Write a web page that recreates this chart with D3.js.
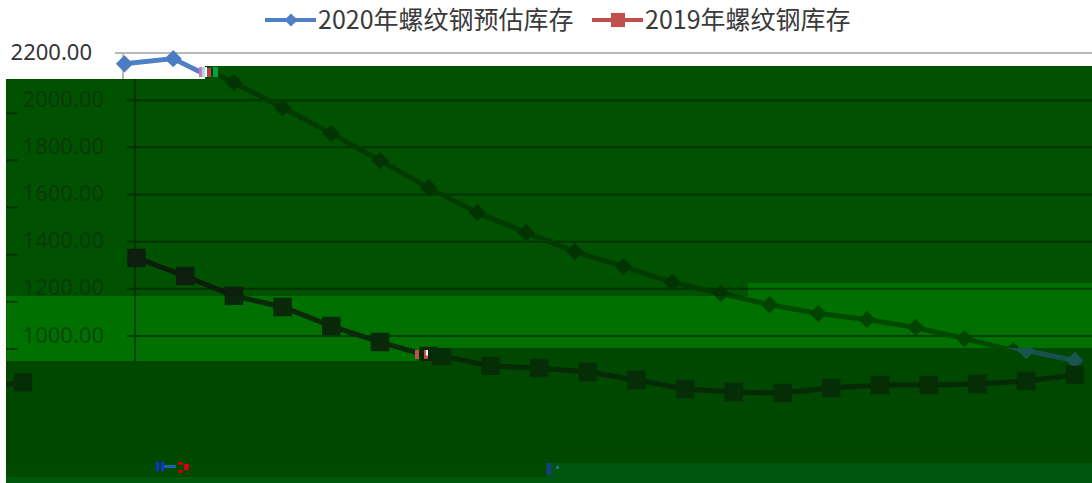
<!DOCTYPE html>
<html><head><meta charset="utf-8">
<script src="https://cdn.jsdelivr.net/npm/d3@7"></script>
<style>html,body{margin:0;padding:0;background:#fff;overflow:hidden}</style>
</head><body>
<svg id="c" width="1092" height="483"></svg>
<script>
// ---- data ----
const categories = ["第1周","第2周","第3周","第4周","第5周","第6周","第7周","第8周","第9周","第10周",
                    "第11周","第12周","第13周","第14周","第15周","第16周","第17周","第18周","第19周","第20周"];
const inv2020 = [2152, 2174, 2072, 1966, 1856, 1742, 1627, 1521, 1436, 1356,
                 1292, 1225, 1178, 1131, 1093, 1068, 1034, 987, 936, 894];
const inv2019 = [1329, 1252, 1168, 1121, 1040, 972, 913, 871, 862, 845,
                 811, 773, 760, 756, 777, 790, 790, 794, 807, 833];
const yTicks = [0, 200, 400, 600, 800, 1000, 1200, 1400, 1600, 1800, 2000, 2200];
const seriesNames = ["2020年螺纹钢预估库存", "2019年螺纹钢库存"];

// ---- layout ----
const W = 1092, H = 483;
const svg = d3.select("#c");
const defs = svg.append("defs");
const x = d3.scalePoint().domain(categories).range([124.5, 1049.8]);
const y = d3.scaleLinear().domain([0, 2200]).range([571.3, 52.5]);
const axisX = 123, gridRight = 1110;
const fmt = d3.format(".2f");

const pal0 = {bg:"#ffffff", grid:"#b8b8b8", text:"#333333", s1:"#4f7fc4", s1m:"#4a7cc2", s2:"#c0504d", s2m:"#c0504d"};
const palA = {bg:"#005200", grid:"#003300", text:"#083a08", s1:"#023a02", s1m:"#013401", s2:"#0d1d0d", s2m:"#0f1f0f"};
const palB = {bg:"#007000", grid:"#004000", text:"#0a480a", s1:"#004a00", s1m:"#004400", s2:"#0b2a0b", s2m:"#0a280a"};
const palC = {bg:"#004700", grid:"#004700", text:"#004700", s1:"#17504c", s1m:"#1a5550", s2:"#052a05", s2m:"#062e06"};

function drawChart(g, pal, opt) {
  if (opt.grid) {
    const grid = g.append("g").attr("transform", `translate(115,0)`)
      .call(d3.axisRight(y).tickValues(yTicks).tickSize(gridRight - 115).tickFormat(""));
    grid.select(".domain").remove();
    grid.selectAll("line").attr("stroke", pal.grid).attr("stroke-width", 2);
    g.append("line").attr("x1", axisX).attr("x2", axisX).attr("y1", y(2200)).attr("y2", H + 40)
      .attr("stroke", pal.grid).attr("stroke-width", 2);
  }
  if (opt.labels) {
    const lab = g.append("g").attr("transform", `translate(${axisX},0)`)
      .call(d3.axisLeft(y).tickValues(opt.labels).tickSize(0).tickPadding(31).tickFormat(fmt));
    lab.select(".domain").remove();
    lab.selectAll("text").attr("fill", pal.text).attr("font-family", "'Noto Sans', sans-serif")
      .attr("font-size", 22).attr("dy", "0.3em");
  }
  if (opt.series) {
    const line = d3.line().x((d, i) => x(categories[i])).y(d => y(d));
    const sets = [
      {data: inv2020, c: pal.s1, m: pal.s1m, sym: d3.symbolDiamond2, size: 190},
      {data: inv2019, c: pal.s2, m: pal.s2m, sym: d3.symbolSquare, size: 340}
    ].filter((s, k) => !opt.only || opt.only.includes(k));
    sets.forEach(s => {
      g.append("path").attr("d", line(s.data)).attr("fill", "none")
        .attr("stroke", s.c).attr("stroke-width", 5).attr("stroke-linejoin", "round");
      g.selectAll(null).data(s.data).join("path")
        .attr("transform", (d, i) => `translate(${x(categories[i])},${y(d)})`)
        .attr("d", d3.symbol(s.sym, s.size)).attr("fill", s.m);
    });
  }
}

// tick labels whose centre falls inside a vertical band
const labelsIn = (top, bottom) => yTicks.filter(v => y(v) > top && y(v) < bottom);

let clipN = 0;
function region(points, pal, dx, dy, opt, noBg) {
  const id = "clip" + (clipN++);
  defs.append("clipPath").attr("id", id).append("polygon").attr("points", points.map(p => p.join(",")).join(" "));
  const g = svg.append("g").attr("clip-path", `url(#${id})`);
  if (!noBg) g.append("rect").attr("width", W).attr("height", H).attr("fill", pal.bg);
  drawChart(g.append("g").attr("transform", `translate(${dx},${dy})`), pal, opt);
}

// base (untouched) chart: labels outside the shifted bands (lower ones get covered by the glitch)
svg.append("rect").attr("width", W).attr("height", H).attr("fill", "#fff");
drawChart(svg.append("g"), pal0, {grid: true, labels: labelsIn(0, 66).concat(labelsIn(361, 440)), series: true});

// legend
const leg = svg.append("g");
const legItems = [{x0: 265, name: seriesNames[0], c: pal0.s1, sym: d3.symbolDiamond2, size: 110},
                  {x0: 592, name: seriesNames[1], c: pal0.s2, sym: d3.symbolSquare, size: 200}];
legItems.forEach(it => {
  leg.append("line").attr("x1", it.x0).attr("x2", it.x0 + 51).attr("y1", 20).attr("y2", 20)
    .attr("stroke", it.c).attr("stroke-width", 4);
  leg.append("path").attr("transform", `translate(${it.x0 + 26},20)`).attr("d", d3.symbol(it.sym, it.size)).attr("fill", it.c);
  leg.append("text").attr("x", it.x0 + 53).attr("y", 29).text(it.name)
    .attr("font-family", "'Noto Sans CJK SC', sans-serif").attr("font-size", 25).attr("fill", "#3a3a3a");
});

// glitch regions
region([[6,79],[205,79],[205,66],[1092,66],[1092,283],[748,283],[748,296],[6,296]], palA, 12, 0,
       {grid: true, labels: labelsIn(66, 296), series: true});
region([[6,79],[18,79],[18,296],[6,296]], palA, 12 - 1086, 13, {grid: true});
region([[6,296],[748,296],[748,283],[1092,283],[1092,348],[433,348],[433,361],[6,361]], palB, 12, 0,
       {grid: true, labels: labelsIn(296, 361), series: true});
region([[6,296],[18,296],[18,361],[6,361]], palB, 12 - 1086, 13, {grid: true});
region([[6,361],[433,361],[433,348],[1092,348],[1092,463],[6,463]], palC, 25, 0, {series: true});
region([[6,361],[45,361],[45,420],[6,420]], palC, 23 - x(categories[19]), 7.5, {series: true, only: [1]}, true);
// untinted slivers
region([[415,350],[419,350],[419,359],[415,359]], pal0, 0, 0, {series: true, only: [1]});
region([[424,350],[428,350],[428,359],[424,359]], pal0, 0, 0, {series: true, only: [1]});

// bottom bands
svg.append("rect").attr("x", 6).attr("y", 463).attr("width", 540).attr("height", 14).attr("fill", "#004b00");
svg.append("rect").attr("x", 6).attr("y", 477).attr("width", 540).attr("height", 6).attr("fill", "#00580f");
svg.append("rect").attr("x", 546).attr("y", 463).attr("width", 546).attr("height", 20).attr("fill", "#00550f");

// small colour artifacts
const art = [
  [199, 67, 3, 10, "#e070b0"], [202, 67, 3, 10, "#90e8e8"], [205, 67, 2, 10, "#ffffff"],
  [207, 68, 4, 9, "#c83a48"], [213, 67, 5, 10, "#00a040"],
  [156, 462, 3, 9, "#1030d0"], [161, 462, 3, 9, "#1030d0"], [164, 465, 12, 3, "#2060a0"],
  [178, 462, 5, 3, "#c00010"], [178, 470, 5, 3, "#c00010"], [184, 464, 5, 6, "#d00010"],
  [547, 463, 4, 12, "#1a3a9a"], [556, 466, 3, 3, "#2a6a8a"]
];
svg.append("g").selectAll("rect").data(art).join("rect")
  .attr("x", d => d[0]).attr("y", d => d[1]).attr("width", d => d[2]).attr("height", d => d[3]).attr("fill", d => d[4]);
</script>
</body></html>
